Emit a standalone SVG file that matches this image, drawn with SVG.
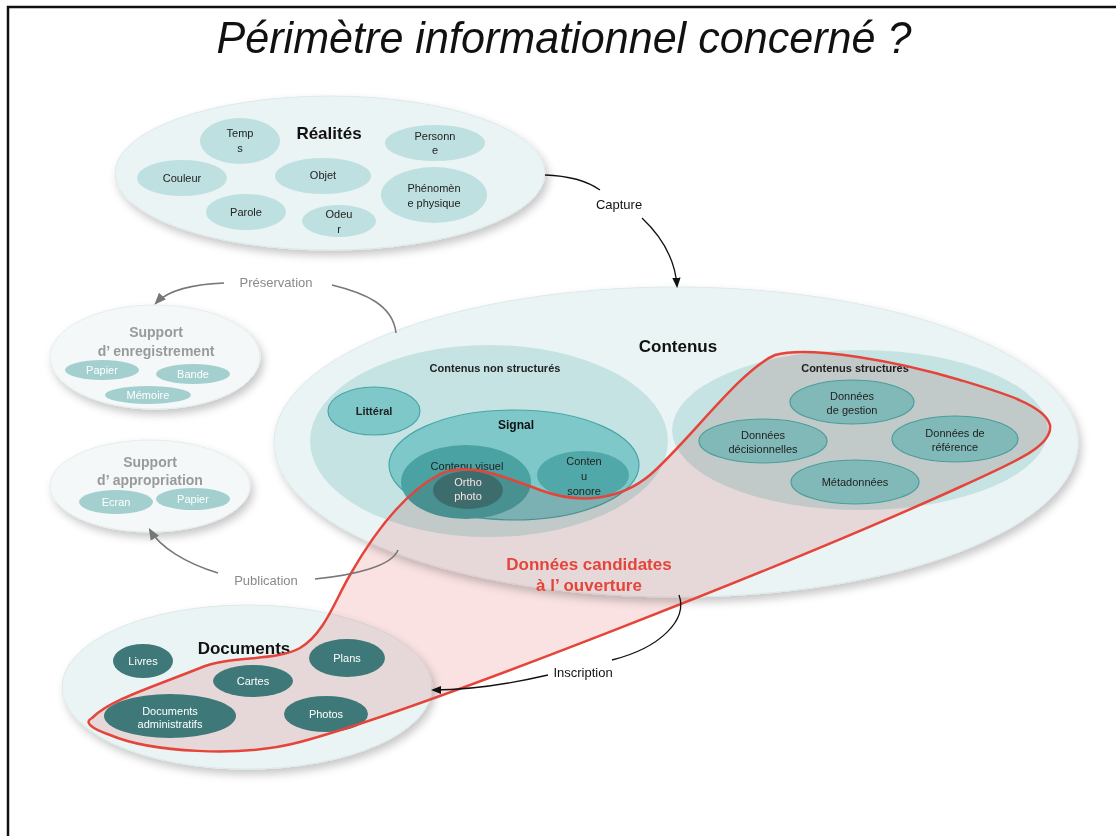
<svg xmlns="http://www.w3.org/2000/svg" width="1116" height="836" viewBox="0 0 1116 836">
<style>
text{font-family:"Liberation Sans",Arial,sans-serif;text-anchor:middle}
.n{font-size:11px;fill:#222}
.nw{font-size:11px;fill:#fff}
.b{font-weight:bold}
.big{font-size:17px;font-weight:bold;fill:#111}
.sup{font-size:14px;font-weight:bold;fill:#9a9a9a}
.lblg{font-size:13px;fill:#8a8a8a}
.lbl{font-size:13px;fill:#111}
.cont{fill:#ebf4f4;stroke:#dde9e9;stroke-width:1}
.rn{fill:#bfe0e0}
.inner{fill:#c6e3e3}
.mid{fill:#7ec8ca;stroke:#4aa5a7;stroke-width:1.2}
.dn{fill:#80b9b7;stroke:#4a9d9b;stroke-width:1.2}
.doc{fill:#3e7878}
.sn{fill:#a3cfcf}
.gl{fill:none;stroke:#777;stroke-width:1.5}
.bl{fill:none;stroke:#111;stroke-width:1.3}
</style>
<defs>
<filter id="sh" x="-10%" y="-10%" width="125%" height="135%">
<feDropShadow dx="3" dy="5" stdDeviation="4" flood-color="#000" flood-opacity="0.22"/>
</filter>
<marker id="ag" viewBox="0 0 10 10" refX="8" refY="5" markerWidth="8" markerHeight="8" orient="auto"><path d="M0,1 L10,5 L0,9 Z" fill="#777"/></marker>
<marker id="ab" viewBox="0 0 10 10" refX="8" refY="5" markerWidth="8" markerHeight="8" orient="auto"><path d="M0,1 L10,5 L0,9 Z" fill="#111"/></marker>
<path id="red" d="M92,718 C110,700 150,688 200,668 C230,655 275,662 300,648 C325,633 335,600 350,575 C370,540 400,495 440,474 C470,462 500,475 540,490 C580,505 620,500 650,475 C690,440 740,370 775,355 C810,345 900,362 960,380 C1000,392 1045,405 1050,425 C1053,445 1020,460 960,487 C800,560 420,710 300,742 C240,758 150,752 110,735 C90,728 84,722 92,718 Z"/>
</defs>
<rect width="1116" height="836" fill="#fff"/>
<path d="M8,836 V7 H1116" fill="none" stroke="#111" stroke-width="2.5"/>
<text x="564" y="53" font-size="44" font-style="italic" fill="#111" textLength="695" lengthAdjust="spacingAndGlyphs">Périmètre informationnel concerné ?</text>

<g id="realites">
<ellipse cx="330" cy="173" rx="215" ry="77" class="cont" filter="url(#sh)"/>
<text x="329" y="139" class="big">Réalités</text>
</g>
<g id="temps"><ellipse cx="240" cy="141" rx="40" ry="23" class="rn"/><text x="240" y="137" class="n">Temp</text><text x="240" y="152" class="n">s</text></g>
<g id="personne"><ellipse cx="435" cy="143" rx="50" ry="18" class="rn"/><text x="435" y="140" class="n">Personn</text><text x="435" y="154" class="n">e</text></g>
<g id="couleur"><ellipse cx="182" cy="178" rx="45" ry="18" class="rn"/><text x="182" y="182" class="n">Couleur</text></g>
<g id="objet"><ellipse cx="323" cy="176" rx="48" ry="18" class="rn"/><text x="323" y="179" class="n">Objet</text></g>
<g id="phenomene"><ellipse cx="434" cy="195" rx="53" ry="28" class="rn"/><text x="434" y="192" class="n">Phénomèn</text><text x="434" y="207" class="n">e physique</text></g>
<g id="parole"><ellipse cx="246" cy="212" rx="40" ry="18" class="rn"/><text x="246" y="216" class="n">Parole</text></g>
<g id="odeur"><ellipse cx="339" cy="221" rx="37" ry="16" class="rn"/><text x="339" y="218" class="n">Odeu</text><text x="339" y="233" class="n">r</text></g>

<g id="support-enregistrement">
<ellipse cx="155" cy="357" rx="105" ry="52" fill="#f4f8f8" stroke="#e4eded" filter="url(#sh)"/>
<text x="156" y="337" class="sup">Support</text><text x="156" y="356" class="sup">d’ enregistrement</text>
<ellipse cx="102" cy="370" rx="37" ry="10" class="sn"/><text x="102" y="374" class="nw">Papier</text>
<ellipse cx="193" cy="374" rx="37" ry="10" class="sn"/><text x="193" y="378" class="nw">Bande</text>
<ellipse cx="148" cy="395" rx="43" ry="9" class="sn"/><text x="148" y="399" class="nw">Mémoire</text>
</g>
<g id="support-appropriation">
<ellipse cx="150" cy="486" rx="100" ry="46" fill="#f4f8f8" stroke="#e4eded" filter="url(#sh)"/>
<text x="150" y="467" class="sup">Support</text><text x="150" y="485" class="sup">d’ appropriation</text>
<ellipse cx="116" cy="502" rx="37" ry="12" class="sn"/><text x="116" y="506" class="nw">Ecran</text>
<ellipse cx="193" cy="499" rx="37" ry="11" class="sn"/><text x="193" y="503" class="nw">Papier</text>
</g>

<g id="contenus">
<ellipse cx="676" cy="442" rx="402" ry="155" class="cont" filter="url(#sh)"/>
<text x="678" y="352" class="big">Contenus</text>
</g>
<g id="contenus-non-structures">
<ellipse cx="489" cy="441" rx="179" ry="96" class="inner"/>
<text x="495" y="372" class="n b">Contenus non structurés</text>
</g>
<g id="litteral"><ellipse cx="374" cy="411" rx="46" ry="24" class="mid"/><text x="374" y="415" class="n b">Littéral</text></g>
<g id="signal"><ellipse cx="514" cy="465" rx="125" ry="55" class="mid"/><text x="516" y="429" font-size="12" class="b" fill="#111">Signal</text></g>
<g id="contenu-visuel"><ellipse cx="466" cy="482" rx="65" ry="37" fill="#4aa2a2"/><text x="467" y="470" class="n">Contenu visuel</text></g>
<g id="ortho-photo"><ellipse cx="468" cy="490" rx="35" ry="19" fill="#3d7a7a"/><text x="468" y="486" class="nw">Ortho</text><text x="468" y="500" class="nw">photo</text></g>
<g id="contenu-sonore"><ellipse cx="583" cy="475" rx="46" ry="24" fill="#50a8a8"/><text x="584" y="465" class="n">Conten</text><text x="584" y="480" class="n">u</text><text x="584" y="495" class="n">sonore</text></g>
<g id="contenus-structures">
<ellipse cx="860" cy="430" rx="188" ry="80" class="inner"/>
<text x="855" y="372" class="n b">Contenus structurés</text>
</g>

<g id="documents">
<ellipse cx="247" cy="687" rx="185" ry="82" class="cont" filter="url(#sh)"/>
<text x="244" y="654" class="big">Documents</text>
</g>

<g id="donnees-candidates-fill">
<use href="#red" style="mix-blend-mode:multiply" fill="#fae2e2"/>
</g>

<g id="donnees-gestion"><ellipse cx="852" cy="402" rx="62" ry="22" class="dn"/><text x="852" y="400" class="n">Données</text><text x="852" y="414" class="n">de gestion</text></g>
<g id="donnees-decisionnelles"><ellipse cx="763" cy="441" rx="64" ry="22" class="dn"/><text x="763" y="439" class="n">Données</text><text x="763" y="453" class="n">décisionnelles</text></g>
<g id="donnees-reference"><ellipse cx="955" cy="439" rx="63" ry="23" class="dn"/><text x="955" y="437" class="n">Données de</text><text x="955" y="451" class="n">référence</text></g>
<g id="metadonnees"><ellipse cx="855" cy="482" rx="64" ry="22" class="dn"/><text x="855" y="486" class="n">Métadonnées</text></g>

<g id="livres"><ellipse cx="143" cy="661" rx="30" ry="17" class="doc"/><text x="143" y="665" class="nw">Livres</text></g>
<g id="plans"><ellipse cx="347" cy="658" rx="38" ry="19" class="doc"/><text x="347" y="662" class="nw">Plans</text></g>
<g id="cartes"><ellipse cx="253" cy="681" rx="40" ry="16" class="doc"/><text x="253" y="685" class="nw">Cartes</text></g>
<g id="documents-administratifs"><ellipse cx="170" cy="716" rx="66" ry="22" class="doc"/><text x="170" y="715" class="nw">Documents</text><text x="170" y="728" class="nw">administratifs</text></g>
<g id="photos"><ellipse cx="326" cy="714" rx="42" ry="18" class="doc"/><text x="326" y="718" class="nw">Photos</text></g>

<g id="donnees-candidates">
<use href="#red" fill="none" stroke="#e5443a" stroke-width="2.5" stroke-linejoin="round"/>
<text x="589" y="570" font-size="17" font-weight="bold" fill="#e5443a">Données candidates</text>
<text x="589" y="591" font-size="17" font-weight="bold" fill="#e5443a">à l’ ouverture</text>
</g>

<g id="connectors">
<path class="bl" d="M545,175 C575,176 590,183 600,190"/>
<path class="bl" d="M642,218 C660,235 675,258 677,286" marker-end="url(#ab)"/>
<text x="619" y="209" class="lbl">Capture</text>
<path class="gl" d="M396,333 C393,305 365,293 332,285"/>
<path class="gl" d="M224,283 C195,284 168,290 156,303" marker-end="url(#ag)"/>
<text x="276" y="287" class="lblg">Préservation</text>
<path class="gl" d="M398,550 C392,566 355,575 315,579"/>
<path class="gl" d="M218,573 C185,563 160,547 150,530" marker-end="url(#ag)"/>
<text x="266" y="585" class="lblg">Publication</text>
<path class="bl" d="M679,595 C688,620 660,648 612,660"/>
<path class="bl" d="M548,675 C505,685 465,690 433,690" marker-end="url(#ab)"/>
<text x="583" y="677" class="lbl">Inscription</text>
</g>
</svg>
